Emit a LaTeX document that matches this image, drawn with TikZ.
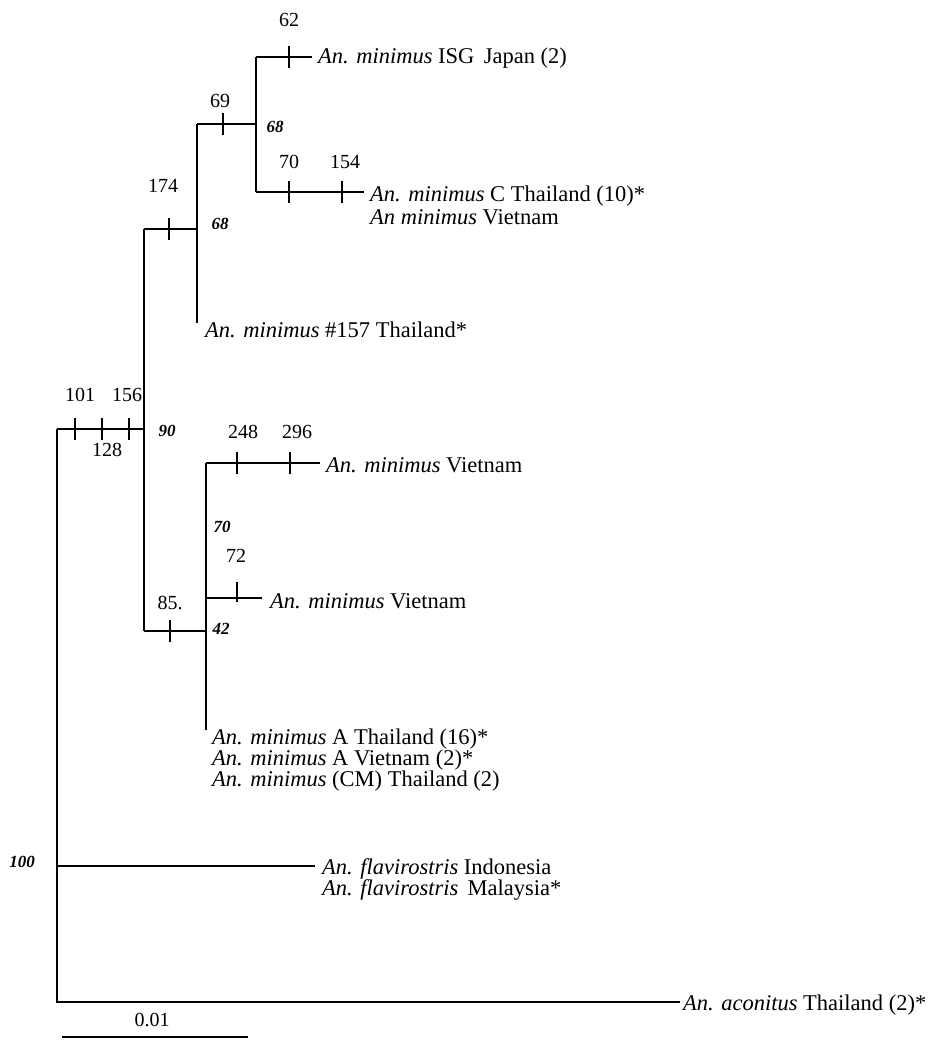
\documentclass[tikz,border=0pt]{standalone}
\usepackage{fontspec}
\setmainfont{Liberation Serif}
\begin{document}
\begin{tikzpicture}[x=1pt,y=-1pt,
  br/.style={line width=1.7pt},
  tk/.style={line width=1.5pt},
  leaf/.style={anchor=west,inner sep=0pt,font=\fontsize{22.5}{24}\selectfont},
  num/.style={inner sep=0pt,font=\fontsize{20}{22}\selectfont},
  boot/.style={inner sep=0pt,font=\fontsize{17}{19}\selectfont\bfseries\itshape}]
\useasboundingbox (0,0) rectangle (929,1053);
% internal nodes
\coordinate (r0) at (57,429);
\coordinate (r1) at (57,866);
\coordinate (r2) at (57,1002);
\coordinate (a0) at (144,429);
\coordinate (a1) at (144,229);
\coordinate (a2) at (144,631);
\coordinate (b0) at (197,229);
\coordinate (b1) at (197,124);
\coordinate (b2) at (197,323);
\coordinate (c0) at (256,124);
\coordinate (c1) at (256,57);
\coordinate (c2) at (256,192);
\coordinate (d0) at (206,631);
\coordinate (d1) at (206,463);
\coordinate (d2) at (206,598);
\coordinate (d3) at (206,730);
% tips
\coordinate (t1) at (312,57);
\coordinate (t2) at (364,192);
\coordinate (t3) at (320,463);
\coordinate (t4) at (262,598);
\coordinate (t5) at (315,866);
\coordinate (t6) at (680,1002);
% branches
\draw[br] (r0) -- (a0);
\draw[br] (r0) -- (r2) -- (t6);
\draw[br] (r1) -- (t5);
\draw[br] (a1) -- (a2);
\draw[br] (a1) -- (b0);
\draw[br] (b1) -- (b2);
\draw[br] (b1) -- (c0);
\draw[br] (c1) -- (c2);
\draw[br] (c1) -- (t1);
\draw[br] (c2) -- (t2);
\draw[br] (a2) -- (d0);
\draw[br] (d1) -- (d3);
\draw[br] (d1) -- (t3);
\draw[br] (d2) -- (t4);
% ticks
\foreach \x/\y in {75/429,102/429,129/429,169/229,223/124,289/57,289/192,342/192,237/463,290/463,170/631}
  \draw[tk] (\x,\y-11) -- (\x,\y+11);
\draw[tk] (237,582) -- (237,602);
% mutation numbers
\node[num] (n62) at (289,20) {62};
\node[num] (n69) at (220,101) {69};
\node[num] (n70) at (289,162) {70};
\node[num] (n154) at (345,162) {154};
\node[num] (n174) at (163,186) {174};
\node[num] (n101) at (80,395) {101};
\node[num] (n156) at (127,395) {156};
\node[num] (n128) at (107,450) {128};
\node[num] (n248) at (243,432) {248};
\node[num] (n296) at (297,432) {296};
\node[num] (n72) at (236,556) {72};
\node[num] (n85) at (170,603) {85.};
% bootstrap values
\node[boot] (bs1) at (275,127) {68};
\node[boot] (bs2) at (220,224) {68};
\node[boot] (bs3) at (167,431) {90};
\node[boot] (bs4) at (222,527) {70};
\node[boot] (bs5) at (221,629) {42};
\node[boot] (bs6) at (22,862) {100};
% leaf labels
\node[leaf] (l1) at (318,58) {\textit{An. minimus} ISG\, Japan (2)};
\node[leaf] (l2) at (370,196) {\textit{An. minimus} C Thailand (10)*};
\node[leaf] (l3) at (370,217) {\textit{An minimus} Vietnam};
\node[leaf] (l4) at (205,330) {\textit{An. minimus} \#157 Thailand*};
\node[leaf] (l5) at (326,465) {\textit{An. minimus} Vietnam};
\node[leaf] (l6) at (270,601) {\textit{An. minimus} Vietnam};
\node[leaf] (l7) at (212,739) {\textit{An. minimus} A Thailand (16)*};
\node[leaf] (l8) at (212,760) {\textit{An. minimus} A Vietnam (2)*};
\node[leaf] (l9) at (212,781) {\textit{An. minimus} (CM) Thailand (2)};
\node[leaf] (l10) at (322,869) {\textit{An. flavirostris} Indonesia};
\node[leaf] (l11) at (322,890) {\textit{An. flavirostris}\, Malaysia*};
\node[leaf] (l12) at (683,1005) {\textit{An. aconitus} Thailand (2)*};
% scale bar
\coordinate (s0) at (62,1037);
\coordinate (s1) at (248,1037);
\draw[br] (s0) -- (s1);
\node[num] (sc) at (152,1020) {0.01};
\end{tikzpicture}
\end{document}
